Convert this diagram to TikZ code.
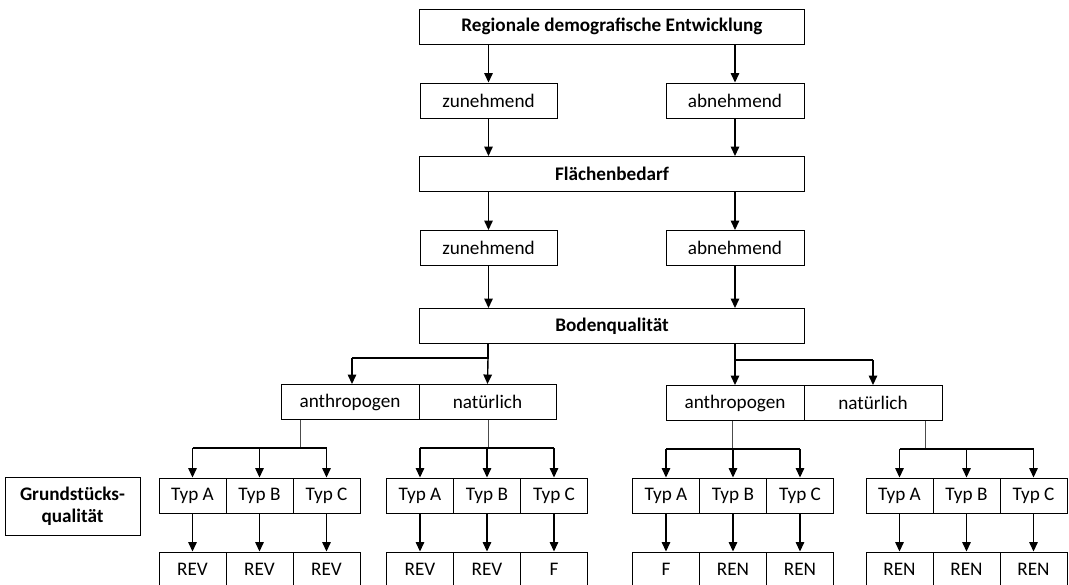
\documentclass[tikz,border=0pt]{standalone}
\usepackage{fontspec}
\setmainfont{Carlito}
\usetikzlibrary{arrows.meta}
\begin{document}
\begin{tikzpicture}[x=1pt,y=-1pt,
  box/.style={draw=black,line width=0.9pt,minimum height=35pt,inner sep=0pt,font=\fontsize{19.2}{20}\selectfont},
  bbox/.style={box,font=\fontsize{19.2}{20}\selectfont\bfseries},
  typbox/.style={box,minimum width=67pt},
  arr/.style={line width=1.4pt,-{Triangle[width=8.5pt,length=9.5pt]}},
  drop/.style={line width=1pt,draw=black!70},
  hl/.style={line width=1.2pt}]
\useasboundingbox (0,0) rectangle (1069,585);
% top chain
\node[bbox,minimum width=385pt] (top) at (612,26.5) {Regionale demografische Entwicklung};
\node[box,minimum width=137pt] (z1) at (488.5,100.5) {zunehmend};
\node[box,minimum width=138pt] (a1) at (735,100.5) {abnehmend};
\node[bbox,minimum width=385pt] (fl) at (612,174) {Flächenbedarf};
\node[box,minimum width=137pt] (z2) at (488.5,248) {zunehmend};
\node[box,minimum width=138pt] (a2) at (735,248) {abnehmend};
\node[bbox,minimum width=385pt] (bq) at (612,326) {Bodenqualität};
\draw[arr] (top.south -| z1) -- (z1.north);
\draw[arr] (top.south -| a1) -- (a1.north);
\draw[arr] (z1.south) -- (z1.south |- fl.north);
\draw[arr] (a1.south) -- (a1.south |- fl.north);
\draw[arr] (fl.south -| z2) -- (z2.north);
\draw[arr] (fl.south -| a2) -- (a2.north);
\draw[arr] (z2.south) -- (z2.south |- bq.north);
\draw[arr] (a2.south) -- (a2.south |- bq.north);
% second level
\node[box,minimum width=138pt] (anL) at (350,402) {anthropogen};
\node[box,minimum width=137pt] (naL) at (487.5,402) {natürlich};
\node[box,minimum width=138pt] (anR) at (735,403) {anthropogen};
\node[box,minimum width=138pt] (naR) at (873,403) {natürlich};
\coordinate (sL) at (488,358);
\coordinate (sR) at (735,360);
\coordinate (kL) at (352,358);
\coordinate (kR) at (873,360);
\draw[hl] (bq.south -| sL) -- (sL) -- (kL);
\draw[arr] (kL) -- (kL |- anL.north);
\draw[arr] (sL) -- (naL.north);
\draw[hl] (bq.south -| sR) -- (sR) -- (kR);
\draw[arr] (kR) -- (naR.north);
\draw[arr] (sR) -- (anR.north);
% Grundstücksqualität label
\node[box,font=\fontsize{19.2}{22}\selectfont\bfseries,minimum width=135pt,minimum height=58pt,align=center] (gq) at (72.5,506) {Grundstücks-\\qualität};
% type groups
\foreach \g/\x in {1/192.5,2/420,3/666,4/899.5}{
  \node[typbox] (t\g a) at (\x,495.5) {Typ A};
  \node[typbox] (t\g b) at (\x+67,495.5) {Typ B};
  \node[typbox] (t\g c) at (\x+134,495.5) {Typ C};
}
% results
\node[typbox] (r1a) at (192.5,569.5) {REV};
\node[typbox] (r1b) at (259.5,569.5) {REV};
\node[typbox] (r1c) at (326.5,569.5) {REV};
\node[typbox] (r2a) at (420,569.5) {REV};
\node[typbox] (r2b) at (487,569.5) {REV};
\node[typbox] (r2c) at (554,569.5) {F};
\node[typbox] (r3a) at (666,569.5) {F};
\node[typbox] (r3b) at (733,569.5) {REN};
\node[typbox] (r3c) at (800,569.5) {REN};
\node[typbox] (r4a) at (899.5,569.5) {REN};
\node[typbox] (r4b) at (966.5,569.5) {REN};
\node[typbox] (r4c) at (1033.5,569.5) {REN};
% drops to types
\coordinate (d1) at (300,448);
\coordinate (d2) at (488,448);
\coordinate (d3) at (732,449);
\coordinate (d4) at (925,449);
\draw[drop] (anL.south -| d1) -- (d1);
\draw[drop] (naL.south -| d2) -- (d2);
\draw[drop] (anR.south -| d3) -- (d3);
\draw[drop] (naR.south -| d4) -- (d4);
\foreach \g/\d in {1/d1,2/d2,3/d3,4/d4}{
  \draw[hl] (\d -| t\g a) -- (\d -| t\g c);
  \foreach \t in {a,b,c}{
    \draw[arr] (\d -| t\g\t) -- (t\g\t.north);
    \draw[arr] (t\g\t.south) -- (r\g\t.north);
  }
}
\end{tikzpicture}
\end{document}
